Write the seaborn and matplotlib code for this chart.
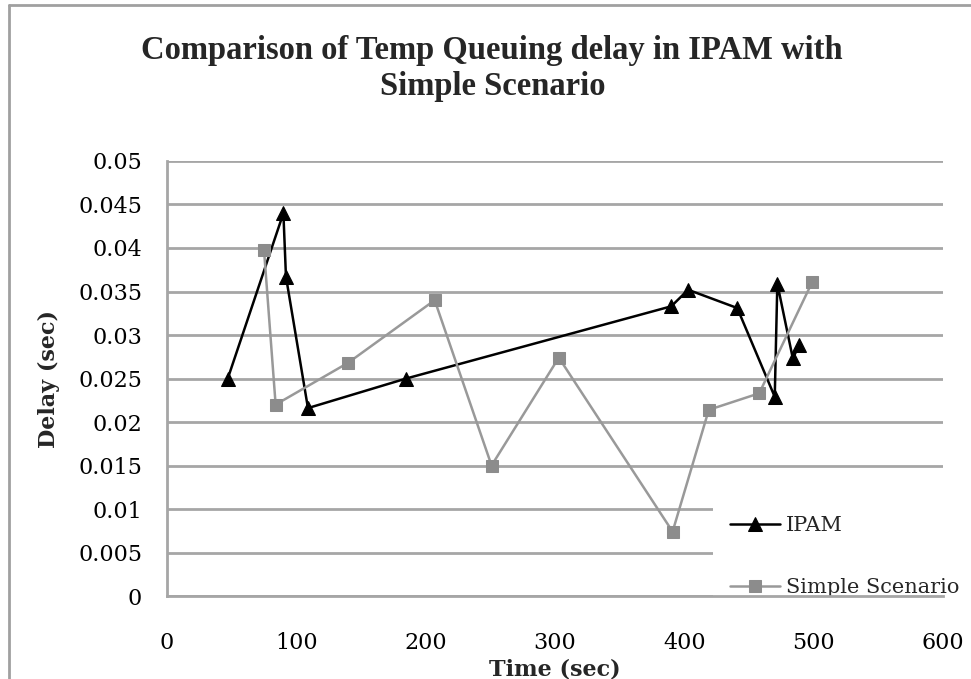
import matplotlib
matplotlib.use("Agg")
import matplotlib.pyplot as plt
import seaborn as sns
import pandas as pd
from matplotlib.lines import Line2D

# Data
ipam_time = [47, 90, 92, 109, 185, 390, 403, 441, 470, 472, 484, 489]
ipam_delay = [0.0250, 0.0440, 0.0367, 0.0216, 0.0250, 0.0333, 0.0352, 0.0331, 0.0229, 0.0359, 0.0273, 0.0289]

simple_time = [75, 84, 140, 207, 251, 303, 391, 419, 458, 499]
simple_delay = [0.0398, 0.0220, 0.0268, 0.0340, 0.0150, 0.0274, 0.0074, 0.0214, 0.0233, 0.0361]

x_ticks = [0, 100, 200, 300, 400, 500, 600]
y_ticks = [0, 0.005, 0.01, 0.015, 0.02, 0.025, 0.03, 0.035, 0.04, 0.045, 0.05]
y_tick_labels = ['0', '0.005', '0.01', '0.015', '0.02', '0.025', '0.03', '0.035', '0.04', '0.045', '0.05']


def main():
    df_ipam = pd.DataFrame({'time': ipam_time, 'delay': ipam_delay})
    df_simple = pd.DataFrame({'time': simple_time, 'delay': simple_delay})
    plot_delay(df_ipam, df_simple)


def plot_delay(df_ipam, df_simple):
    sns.set_style('white')
    plt.rcParams['font.family'] = ['DejaVu Serif']

    fig = plt.figure(figsize=(9.71, 6.79), dpi=100)
    ax = fig.add_axes([0.172, 0.1222, 0.799, 0.6407])

    grid_col = '#a6a6a6'

    sns.lineplot(ax=ax, x='time', y='delay', data=df_ipam, sort=False, color='black',
                 marker='^', markersize=10, markeredgecolor='black', linewidth=1.8,
                 label='IPAM', zorder=3)
    sns.lineplot(ax=ax, x='time', y='delay', data=df_simple, sort=False, color='#999999',
                 marker='s', markersize=9, markerfacecolor='#8c8c8c', markeredgecolor='#8c8c8c',
                 linewidth=1.8, label='Simple Scenario', zorder=3)

    ax.set_xlim(0, 600)
    ax.set_ylim(0, 0.05)
    ax.set_xticks(x_ticks)
    ax.set_yticks(y_ticks)
    ax.set_yticklabels(y_tick_labels)
    ax.tick_params(axis='both', length=0, labelsize=16, colors='black')
    ax.tick_params(axis='x', pad=26)
    ax.tick_params(axis='y', pad=18)

    ax.set_axisbelow(True)
    ax.grid(axis='y', color=grid_col, linewidth=2)
    ax.grid(axis='x', visible=False)
    for side in ['top', 'right']:
        ax.spines[side].set_visible(False)
    for side in ['left', 'bottom']:
        ax.spines[side].set_color(grid_col)
        ax.spines[side].set_linewidth(2)

    ax.set_xlabel('Time (sec)', fontsize=16, fontweight='bold', labelpad=3)
    ax.set_ylabel('Delay (sec)', fontsize=16, fontweight='bold', labelpad=13)

    fig.text(0.507, 0.899, 'Comparison of Temp Queuing delay in IPAM with\nSimple Scenario',
             ha='center', va='center', fontsize=23.5, fontweight='bold', linespacing=1.2,
             family='Liberation Serif')

    leg = ax.legend(loc='upper left', bbox_to_anchor=(0.7036, 0.222), borderaxespad=0,
                    fontsize=15, frameon=True, facecolor='white', edgecolor='none', framealpha=1,
                    handlelength=2.4, handletextpad=0.3, labelspacing=2.05, borderpad=0.8)
    leg.set_zorder(2)

    # outer chart frame (left and top edges visible in the crop)
    frame_col = '#a0a0a0'
    fig.add_artist(Line2D([0.009, 0.009], [0, 0.993], transform=fig.transFigure,
                          color=frame_col, linewidth=2))
    fig.add_artist(Line2D([0.009, 1.0], [0.993, 0.993], transform=fig.transFigure,
                          color=frame_col, linewidth=2))

    plt.savefig('out.png', dpi=100)


if __name__ == '__main__':
    main()
